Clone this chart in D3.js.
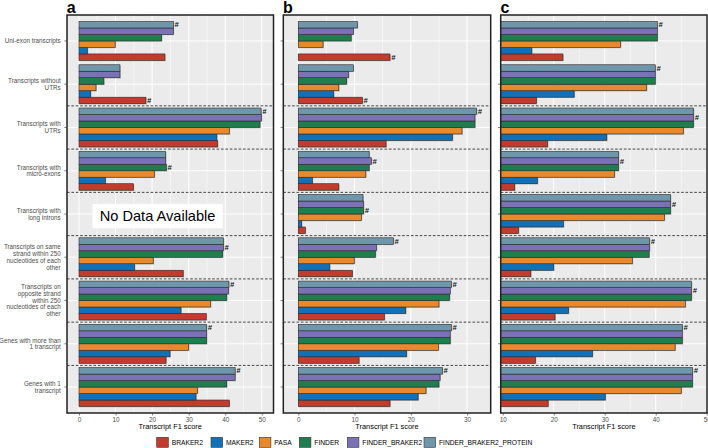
<!DOCTYPE html>
<html><head><meta charset="utf-8">
<script src="https://cdn.jsdelivr.net/npm/d3@7"></script>
<style>body{margin:0;background:#fff}svg{display:block;font-family:"Liberation Sans",Arial,sans-serif}</style>
</head><body><svg id="chart" width="708" height="448"></svg>
<script>
// ---------- DATA ----------
const categories = ["Uni-exon transcripts","Transcripts without UTRs","Transcripts with UTRs","Transcripts with micro-exons","Transcripts with long introns","Transcripts on same strand within 250 nucleotides of each other","Transcripts on opposite strand within 250 nucleotides of each other","Genes with more than 1 transcript","Genes with 1 transcript"];
const categoryLines = [
  ["Uni-exon transcripts"],
  ["Transcripts without","UTRs"],
  ["Transcripts with","UTRs"],
  ["Transcripts with","micro-exons"],
  ["Transcripts with","long introns"],
  ["Transcripts on same","strand within 250","nucleotides of each","other"],
  ["Transcripts on","opposite strand","within 250","nucleotides of each","other"],
  ["Genes with more than","1 transcript"],
  ["Genes with 1","transcript"]
];
const seriesNames = ["BRAKER2","MAKER2","PASA","FINDER","FINDER_BRAKER2","FINDER_BRAKER2_PROTEIN"];
const seriesColors = ["#C33B2C","#1170B8","#E8892B","#1F7E4E","#7B72B6","#6F97AB"];

// panel a
const a_BRAKER2  = [23.5, 18.3, 37.9, 14.9, 0, 28.5, 34.8, 23.8, 41.1];
const a_MAKER2   = [2.3, 3.2, 37.7, 7.2, 0, 15.2, 27.9, 24.9, 32.0];
const a_PASA     = [9.9, 4.65, 41.1, 20.6, 0, 20.3, 36.0, 30.0, 32.4];
const a_FINDER   = [22.6, 6.8, 49.5, 23.9, 0, 39.3, 40.4, 34.9, 40.4];
const a_FB2      = [25.8, 11.2, 49.9, 23.7, 0, 39.5, 40.9, 34.9, 42.7];
const a_FB2P     = [25.8, 11.2, 49.8, 23.7, 0, 39.5, 41.0, 34.9, 42.7];
const a_best = ["FINDER_BRAKER2_PROTEIN","BRAKER2","FINDER_BRAKER2_PROTEIN","FINDER",null,"FINDER_BRAKER2","FINDER_BRAKER2_PROTEIN","FINDER_BRAKER2_PROTEIN","FINDER_BRAKER2_PROTEIN"];

// panel b
const b_BRAKER2  = [16.3, 11.4, 15.6, 7.2, 1.25, 9.6, 15.3, 10.8, 16.3];
const b_MAKER2   = [null, 6.3, 27.4, 2.5, 0.6, 5.6, 19.1, 19.25, 21.3];
const b_PASA     = [4.4, 7.2, 29.1, 12.0, 11.2, 9.95, 25.0, 24.9, 22.7];
const b_FINDER   = [9.4, 8.6, 31.4, 12.6, 11.6, 13.7, 26.9, 27.0, 25.0];
const b_FB2      = [9.8, 8.95, 31.4, 13.0, 11.6, 13.9, 27.0, 27.0, 25.2];
const b_FB2P     = [10.5, 9.8, 31.7, 12.6, 11.5, 16.9, 27.2, 27.2, 25.6];
const b_best = ["BRAKER2","BRAKER2","FINDER_BRAKER2_PROTEIN","FINDER_BRAKER2","FINDER","FINDER_BRAKER2_PROTEIN","FINDER_BRAKER2_PROTEIN","FINDER_BRAKER2_PROTEIN","FINDER_BRAKER2_PROTEIN"];

// panel c
const c_BRAKER2  = [21.8, 16.6, 18.8, 12.35, 13.1, 15.5, 20.25, 16.4, 18.9];
const c_MAKER2   = [15.7, 24.0, 30.4, 16.8, 21.9, 20.0, 22.9, 27.6, 30.1];
const c_PASA     = [33.1, 38.2, 45.4, 31.9, 41.7, 35.4, 45.8, 43.8, 45.0];
const c_FINDER   = [40.3, 39.9, 47.4, 32.7, 42.9, 38.7, 47.0, 45.2, 47.2];
const c_FB2      = [40.3, 39.9, 47.4, 32.7, 42.9, 38.8, 47.0, 45.2, 47.2];
const c_FB2P     = [40.3, 39.9, 47.4, 32.7, 42.9, 38.8, 47.0, 45.2, 47.2];
const c_best = ["FINDER_BRAKER2_PROTEIN","FINDER_BRAKER2_PROTEIN","FINDER_BRAKER2","FINDER_BRAKER2","FINDER_BRAKER2","FINDER_BRAKER2_PROTEIN","FINDER_BRAKER2","FINDER_BRAKER2_PROTEIN","FINDER_BRAKER2_PROTEIN"];

const ticksA = [0,10,20,30,40,50];
const ticksB = [0,10,20,30];
const ticksC = [10,20,30,40,50];
const xTitle = "Transcript F1 score";
const noDataText = "No Data Available";

// ---------- LAYOUT ----------
const svg = d3.select("#chart");
const pTop = 15, pBottom = 413;
const panels = [
  {letter:"a", x0:67, x1:273.5, domain:[-3.28,53.2], ticks:ticksA, minor:[5,15,25,35,45], base:0,
   data:[a_BRAKER2,a_MAKER2,a_PASA,a_FINDER,a_FB2,a_FB2P], best:a_best, labels:true, noData:4},
  {letter:"b", x0:283.3, x1:490.7, domain:[-2.66,34.2], ticks:ticksB, minor:[5,15,25], base:0,
   data:[b_BRAKER2,b_MAKER2,b_PASA,b_FINDER,b_FB2,b_FB2P], best:b_best, labels:false},
  {letter:"c", x0:500.7, x1:707, domain:[9.6,50.05], ticks:ticksC, minor:[15,25,35,45], base:9.6,
   data:[c_BRAKER2,c_MAKER2,c_PASA,c_FINDER,c_FB2,c_FB2P], best:c_best, labels:false}
];

const y = d3.scaleBand().domain(categories).range([pTop,pBottom]).paddingInner(0).paddingOuter(0.1);
const step = y.step();
const inner = d3.scaleBand().domain(seriesNames.slice().reverse()).range([-0.45*step, 0.45*step]);
const yc = c => y(c) + y.bandwidth()/2;

panels.forEach((p,pi) => {
  const x = d3.scaleLinear().domain(p.domain).range([p.x0,p.x1]);
  const g = svg.append("g");
  const clipId = "clip"+pi;
  svg.append("clipPath").attr("id",clipId).append("rect")
    .attr("x",p.x0).attr("y",pTop).attr("width",p.x1-p.x0).attr("height",pBottom-pTop);

  g.append("rect").attr("x",p.x0).attr("y",pTop).attr("width",p.x1-p.x0).attr("height",pBottom-pTop).attr("fill","#EBEBEB");
  g.selectAll(".minor").data(p.minor).join("line")
    .attr("x1",d=>x(d)).attr("x2",d=>x(d)).attr("y1",pTop).attr("y2",pBottom)
    .attr("stroke","#fff").attr("stroke-width",0.5);
  g.selectAll(".major").data(p.ticks.filter(t=>x(t)<=p.x1)).join("line")
    .attr("x1",d=>x(d)).attr("x2",d=>x(d)).attr("y1",pTop).attr("y2",pBottom)
    .attr("stroke","#fff").attr("stroke-width",1);
  g.selectAll(".hgrid").data(categories).join("line")
    .attr("x1",p.x0).attr("x2",p.x1).attr("y1",d=>yc(d)).attr("y2",d=>yc(d))
    .attr("stroke","#fff").attr("stroke-width",1);

  g.selectAll(".sep").data(categories.slice(1,-1)).join("line")
    .attr("x1",p.x0).attr("x2",p.x1).attr("y1",d=>yc(d)+step/2).attr("y2",d=>yc(d)+step/2)
    .attr("stroke","#333").attr("stroke-width",0.9).attr("stroke-dasharray","2.6,1.8");

  const barData = [];
  seriesNames.forEach((s,si) => {
    p.data[si].forEach((v,ci) => {
      if (v === null) return;
      barData.push({s, si, v, c:categories[ci], ci});
    });
  });
  const bars = g.append("g").attr("clip-path",`url(#${clipId})`);
  bars.selectAll(".shadow").data(barData.filter(d=>d.v>0)).join("rect")
    .attr("x",x(p.base)).attr("y",d=>yc(d.c)+inner(d.s)+0.8)
    .attr("width",d=>Math.max(0,x(d.v)-x(p.base))+0.9).attr("height",inner.bandwidth())
    .attr("fill","#8c8c8c").attr("opacity",0.55);
  bars.selectAll(".bar").data(barData).join("rect")
    .attr("x",x(p.base)).attr("y",d=>yc(d.c)+inner(d.s))
    .attr("width",d=>Math.max(0,x(d.v)-x(p.base))).attr("height",inner.bandwidth())
    .attr("fill",d=>seriesColors[d.si]).attr("stroke","#2a2a2a").attr("stroke-width",0.6);

  const bestData = p.best.map((s,ci)=>({s,ci})).filter(d=>d.s);
  g.selectAll(".hash").data(bestData).join("text")
    .attr("x",d=>x(p.data[seriesNames.indexOf(d.s)][d.ci])+1.2)
    .attr("y",d=>yc(categories[d.ci])+inner(d.s)+inner.bandwidth()/2+2.6)
    .attr("font-size",7.5).attr("font-weight","bold").attr("font-style","italic").attr("fill","#111")
    .text("#");

  if (p.noData !== undefined) {
    const cy = yc(categories[p.noData]) + 2;
    const cx = x(21.5);
    g.append("rect").attr("x",cx-65.2).attr("y",cy-12.1).attr("width",130.4).attr("height",24.3).attr("fill","#fff");
    g.append("text").attr("x",cx).attr("y",cy+5.2).attr("text-anchor","middle")
      .attr("font-size",14.6).attr("fill","#000").text(noDataText);
  }

  g.append("rect").attr("x",p.x0).attr("y",pTop).attr("width",p.x1-p.x0).attr("height",pBottom-pTop)
    .attr("fill","none").attr("stroke","#222").attr("stroke-width",1.5);

  const xa = g.append("g").attr("transform",`translate(0,${pBottom})`)
    .call(d3.axisBottom(x).tickValues(p.ticks).tickSize(2.5).tickPadding(1.5));
  xa.select(".domain").remove();
  xa.selectAll(".tick line").attr("stroke","#333").attr("stroke-width",0.6);
  xa.selectAll(".tick text").attr("font-size",6.4).attr("fill","#4D4D4D").attr("font-family",null);
  g.append("text").attr("x",(p.x0+p.x1)/2).attr("y",428.6).attr("text-anchor","middle")
    .attr("font-size",7.4).attr("fill","#000").text(xTitle);

  const ya = g.append("g").attr("transform",`translate(${p.x0},0)`)
    .call(d3.axisLeft(y).tickSize(2.7).tickFormat(""));
  ya.select(".domain").remove();
  ya.selectAll(".tick line").attr("stroke","#333").attr("stroke-width",0.6);
  if (p.labels) {
    const lh = 6.7;
    categories.forEach((c,ci) => {
      const lines = categoryLines[ci];
      const t = g.append("text").attr("text-anchor","end").attr("font-size",6.3).attr("fill","#4D4D4D");
      const y0 = yc(c) - (lines.length-1)*lh/2 + 2.2;
      lines.forEach((ln,li) => t.append("tspan").attr("x",p.x0-6.3).attr("y",y0+li*lh).text(ln));
    });
  }

  svg.append("text").attr("x",p.x0-0.3).attr("y",13).attr("font-size",16).attr("font-weight","bold")
    .attr("fill","#000").text(p.letter);
});

// ---------- LEGEND ----------
const keyX = [156.7, 211, 259.3, 299.3, 347.3, 424];
const lg = svg.append("g");
seriesNames.forEach((s,i) => {
  lg.append("rect").attr("x",keyX[i]).attr("y",437.3).attr("width",11.6).attr("height",10)
    .attr("fill",seriesColors[i]).attr("stroke","#333").attr("stroke-width",0.6);
  lg.append("text").attr("x",keyX[i]+15).attr("y",444.8).attr("font-size",6.7).attr("fill","#000").text(s);
});
</script></body></html>
